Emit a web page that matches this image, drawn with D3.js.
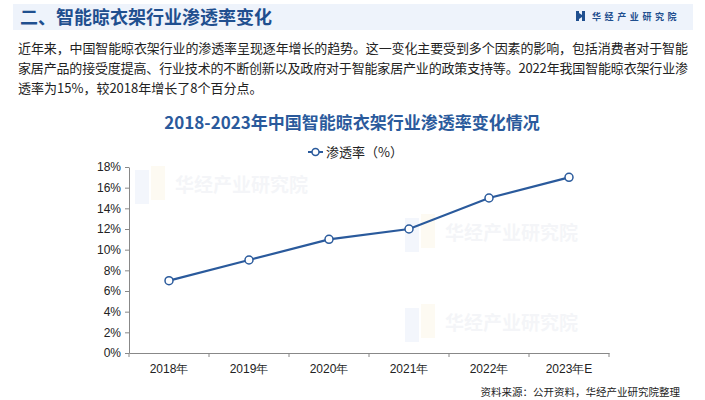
<!DOCTYPE html>
<html><head><meta charset="utf-8">
<script src="https://cdn.jsdelivr.net/npm/d3@7"></script>
<style>
body{margin:0;background:#fff;}
svg{display:block;font-family:"Noto Sans CJK SC","Liberation Sans",sans-serif;}
</style></head>
<body>
<svg id="c" width="705" height="400"></svg>
<script>
const categories = ["2018年","2019年","2020年","2021年","2022年","2023年E"];
const values = [7, 9, 11, 12, 15, 17];
const yTicks = [0,2,4,6,8,10,12,14,16,18];
const seriesName = "渗透率（%）";
const chartTitle = "2018-2023年中国智能晾衣架行业渗透率变化情况";
const headerTitle = "二、智能晾衣架行业渗透率变化";
const paragraph = [
  "近年来，中国智能晾衣架行业的渗透率呈现逐年增长的趋势。这一变化主要受到多个因素的影响，包括消费者对于智能",
  "家居产品的接受度提高、行业技术的不断创新以及政府对于智能家居产业的政策支持等。2022年我国智能晾衣架行业渗",
  "透率为15%，较2018年增长了8个百分点。"
];
const sourceText = "资料来源：公开资料，华经产业研究院整理";
const brand = "华经产业研究院";

const svg = d3.select("#c");
const blue = "#2a5a9c";

// faint watermarks
const wm = [[135,192],[405,240],[405,330]];
wm.forEach(([x,y])=>{
  const g = svg.append("g").attr("opacity",0.09);
  g.append("rect").attr("x",x).attr("y",y-22).attr("width",14).attr("height",34).attr("fill","#7fa6e0");
  g.append("rect").attr("x",x+16).attr("y",y-26).attr("width",14).attr("height",34).attr("fill","#f3d47a");
  g.append("text").attr("x",x+40).attr("y",y).attr("font-size",19).attr("font-weight","bold").attr("fill","#8a9ab5").text(brand);
});

// header band
svg.append("rect").attr("x",13).attr("y",4).attr("width",680).attr("height",26).attr("fill","#eef3fb");
svg.append("text").attr("x",20).attr("y",24).attr("font-size",18).attr("font-weight","bold").attr("fill","#1f4f8f").text(headerTitle);
// logo
svg.append("rect").attr("x",576).attr("y",11).attr("width",3).attr("height",10).attr("fill","#1f4f8f");
svg.append("path").attr("d","M579,13 L582,15 L582,17 L579,19 Z").attr("fill","#1f4f8f");
svg.append("rect").attr("x",582).attr("y",11).attr("width",3).attr("height",10).attr("fill","#1f4f8f");
svg.append("text").attr("x",592).attr("y",20).attr("font-size",9).attr("font-weight","bold").attr("letter-spacing",3.6).attr("fill","#1f4f8f").text(brand);

// paragraph
paragraph.forEach((t,i)=>{
  const tx = svg.append("text").attr("x",18).attr("y",53+i*20).attr("font-size",13).attr("fill","#222").text(t);
  if(i<2) tx.attr("textLength",670).attr("lengthAdjust","spacing");
});

// chart title
svg.append("text").attr("x",352).attr("y",129).attr("text-anchor","middle").attr("font-size",17).attr("font-weight","bold").attr("fill",blue).text(chartTitle);

// legend
svg.append("line").attr("x1",308).attr("x2",323).attr("y1",152).attr("y2",152).attr("stroke",blue).attr("stroke-width",2);
svg.append("circle").attr("cx",315.5).attr("cy",152).attr("r",3.5).attr("fill","#fff").attr("stroke",blue).attr("stroke-width",1.5);
svg.append("text").attr("x",326).attr("y",157).attr("font-size",13).attr("fill","#222").text(seriesName);

// scales
const x = d3.scaleBand().domain(categories).range([129,609]);
const y = d3.scaleLinear().domain([0,18]).range([353,167]);

const yAxis = svg.append("g").attr("transform","translate(129,0)")
  .call(d3.axisLeft(y).tickValues(yTicks).tickFormat(d=>d+"%").tickSize(4).tickSizeOuter(0));
yAxis.select(".domain").attr("stroke","#888");
yAxis.selectAll(".tick line").attr("stroke","#888");
yAxis.selectAll("text").attr("font-family","Liberation Sans, Arial, sans-serif").attr("font-size",12).attr("fill","#222").attr("x",-8);

const xAxis = svg.append("g").attr("transform","translate(0,353)")
  .call(d3.axisBottom(x).tickSize(0).tickSizeOuter(0));
xAxis.select(".domain").attr("stroke","#888");
xAxis.selectAll("text").attr("font-size",12).attr("fill","#222").attr("dy","0.71em").attr("y",11);
// boundary ticks
const bounds = categories.map(c=>x(c)).concat([x(categories[categories.length-1])+x.bandwidth()]);
xAxis.selectAll(".bt").data(bounds).enter().append("line")
  .attr("x1",d=>d).attr("x2",d=>d).attr("y1",0).attr("y2",4).attr("stroke","#888");

// line
const cx = c=>x(c)+x.bandwidth()/2;
const data = categories.map((c,i)=>({c,v:values[i]}));
svg.append("path").datum(data)
  .attr("d",d3.line().x(d=>cx(d.c)).y(d=>y(d.v)))
  .attr("fill","none").attr("stroke",blue).attr("stroke-width",2.2);
svg.selectAll(".pt").data(data).enter().append("circle")
  .attr("cx",d=>cx(d.c)).attr("cy",d=>y(d.v)).attr("r",4)
  .attr("fill","#fff").attr("stroke",blue).attr("stroke-width",1.5);

// source
svg.append("text").attr("x",680).attr("y",396).attr("text-anchor","end").attr("font-size",10.5).attr("fill","#222").text(sourceText);
</script>
</body></html>
